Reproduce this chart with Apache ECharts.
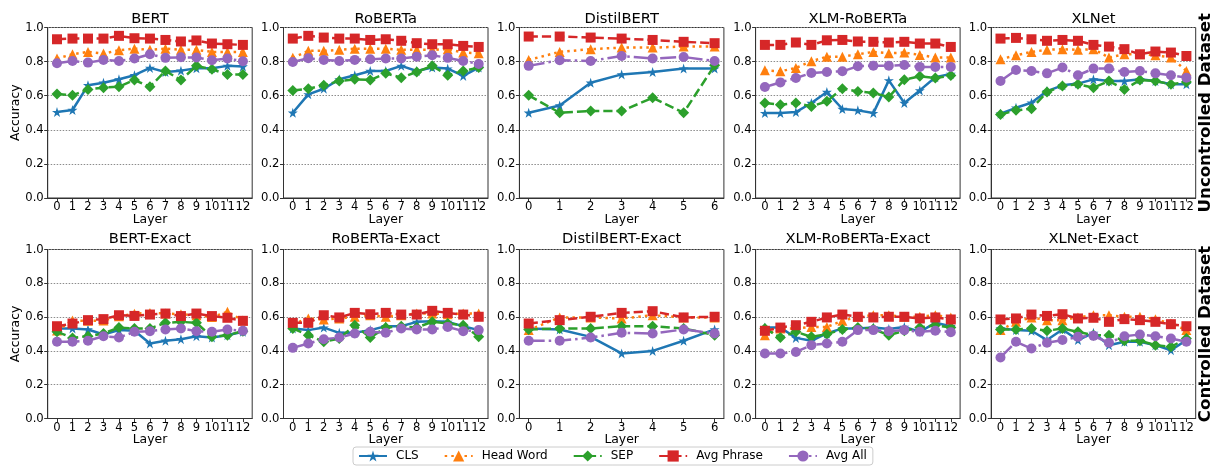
<!DOCTYPE html>
<html>
<head>
<meta charset="utf-8">
<script src="https://cdn.jsdelivr.net/npm/echarts@6/dist/echarts.min.js"></script>
<style>
html,body{margin:0;padding:0;background:#fff;}
#chart{width:1217px;height:469px;}
</style>
</head>
<body>
<div id="chart"></div>
<script>
// ---- data ----
const layers13 = [0,1,2,3,4,5,6,7,8,9,10,11,12];
const layers7 = [0,1,2,3,4,5,6];
const seriesNames = ['CLS','Head Word','SEP','Avg Phrase','Avg All'];
const panelTitles = ['BERT','RoBERTa','DistilBERT','XLM-RoBERTa','XLNet',
  'BERT-Exact','RoBERTa-Exact','DistilBERT-Exact','XLM-RoBERTa-Exact','XLNet-Exact'];
const rowLabels = ['Uncontrolled Dataset','Controlled Dataset'];
const yTicks = [0,0.2,0.4,0.6,0.8,1.0];

// Uncontrolled
const bertCLS    = [0.504,0.516,0.661,0.676,0.696,0.720,0.763,0.739,0.747,0.761,0.761,0.775,0.771];
const bertHead   = [0.818,0.843,0.857,0.847,0.867,0.876,0.869,0.876,0.869,0.869,0.857,0.857,0.857];
const bertSEP    = [0.610,0.602,0.637,0.647,0.653,0.692,0.653,0.745,0.692,0.775,0.755,0.725,0.725];
const bertPhrase = [0.931,0.935,0.935,0.935,0.951,0.937,0.935,0.927,0.918,0.924,0.906,0.902,0.898];
const bertAll    = [0.790,0.804,0.794,0.810,0.804,0.818,0.843,0.822,0.825,0.824,0.808,0.818,0.802];

const robCLS    = [0.500,0.608,0.641,0.696,0.720,0.745,0.745,0.775,0.745,0.765,0.759,0.716,0.765];
const robHead   = [0.822,0.863,0.863,0.869,0.876,0.876,0.876,0.869,0.869,0.869,0.873,0.853,0.849];
const robSEP    = [0.631,0.641,0.661,0.686,0.696,0.692,0.731,0.706,0.739,0.775,0.720,0.745,0.765];
const robPhrase = [0.935,0.951,0.941,0.935,0.935,0.927,0.931,0.922,0.908,0.902,0.902,0.892,0.886];
const robAll    = [0.798,0.820,0.810,0.804,0.810,0.814,0.818,0.818,0.829,0.837,0.822,0.804,0.786];

const disCLS    = [0.500,0.543,0.676,0.725,0.739,0.759,0.759];
const disHead   = [0.810,0.857,0.873,0.882,0.882,0.888,0.888];
const disSEP    = [0.602,0.500,0.510,0.510,0.588,0.500,0.778];
const disPhrase = [0.947,0.947,0.941,0.935,0.927,0.916,0.908];
const disAll    = [0.775,0.808,0.804,0.833,0.818,0.827,0.804];

const xlmCLS    = [0.498,0.498,0.504,0.557,0.622,0.522,0.514,0.498,0.690,0.557,0.631,0.708,0.728];
const xlmHead   = [0.749,0.743,0.763,0.802,0.829,0.829,0.843,0.857,0.849,0.853,0.839,0.824,0.824];
const xlmSEP    = [0.557,0.547,0.557,0.537,0.567,0.641,0.625,0.616,0.592,0.694,0.714,0.704,0.718];
const xlmPhrase = [0.898,0.898,0.912,0.898,0.925,0.927,0.918,0.916,0.912,0.916,0.906,0.906,0.886];
const xlmAll    = [0.651,0.678,0.704,0.733,0.739,0.743,0.773,0.776,0.776,0.780,0.769,0.769,0.769];

const xlnCLS    = [0.494,0.529,0.559,0.627,0.661,0.671,0.696,0.686,0.686,0.696,0.686,0.667,0.667];
const xlnHead   = [0.814,0.837,0.857,0.869,0.873,0.869,0.873,0.824,0.843,0.843,0.837,0.824,0.745];
const xlnSEP    = [0.490,0.514,0.524,0.622,0.657,0.667,0.647,0.686,0.637,0.692,0.686,0.667,0.680];
const xlnPhrase = [0.935,0.939,0.931,0.922,0.927,0.922,0.898,0.888,0.873,0.843,0.859,0.853,0.833];
const xlnAll    = [0.686,0.751,0.745,0.731,0.765,0.720,0.759,0.759,0.739,0.745,0.731,0.720,0.706];

// Controlled (Exact)
const bertExCLS    = [0.533,0.533,0.527,0.497,0.523,0.519,0.444,0.460,0.469,0.487,0.479,0.493,0.513];
const bertExHead   = [0.520,0.580,0.578,0.580,0.605,0.620,0.625,0.621,0.617,0.611,0.600,0.631,0.580];
const bertExSEP    = [0.513,0.477,0.487,0.503,0.538,0.533,0.533,0.566,0.572,0.566,0.483,0.493,0.517];
const bertExPhrase = [0.546,0.562,0.582,0.588,0.611,0.607,0.615,0.621,0.606,0.621,0.606,0.596,0.578];
const bertExAll    = [0.454,0.454,0.460,0.487,0.479,0.513,0.517,0.527,0.533,0.517,0.513,0.527,0.519];

const robExCLS    = [0.533,0.523,0.538,0.507,0.507,0.523,0.546,0.546,0.572,0.576,0.572,0.546,0.523];
const robExHead   = [0.558,0.592,0.586,0.592,0.602,0.611,0.602,0.611,0.621,0.621,0.617,0.621,0.621];
const robExSEP    = [0.533,0.493,0.454,0.473,0.552,0.479,0.538,0.546,0.538,0.572,0.562,0.552,0.483];
const robExPhrase = [0.566,0.566,0.611,0.598,0.625,0.617,0.625,0.615,0.615,0.637,0.625,0.615,0.602];
const robExAll    = [0.418,0.444,0.469,0.479,0.503,0.513,0.507,0.533,0.527,0.527,0.542,0.517,0.523];

const disExCLS    = [0.533,0.527,0.483,0.385,0.400,0.460,0.527];
const disExHead   = [0.523,0.598,0.598,0.592,0.611,0.598,0.598];
const disExSEP    = [0.527,0.533,0.533,0.546,0.546,0.533,0.493];
const disExPhrase = [0.562,0.582,0.602,0.625,0.635,0.598,0.602];
const disExAll    = [0.460,0.460,0.479,0.507,0.503,0.527,0.503];

const xlmExCLS    = [0.538,0.538,0.477,0.460,0.503,0.533,0.533,0.538,0.529,0.542,0.513,0.566,0.546];
const xlmExHead   = [0.493,0.533,0.533,0.542,0.542,0.578,0.602,0.611,0.611,0.602,0.602,0.611,0.598];
const xlmExSEP    = [0.533,0.479,0.513,0.483,0.499,0.527,0.538,0.529,0.493,0.519,0.538,0.552,0.538];
const xlmExPhrase = [0.519,0.538,0.552,0.572,0.598,0.615,0.602,0.598,0.602,0.602,0.592,0.598,0.586];
const xlmExAll    = [0.385,0.385,0.394,0.434,0.444,0.454,0.523,0.523,0.517,0.523,0.513,0.519,0.511];

const xlnExCLS    = [0.533,0.523,0.519,0.464,0.527,0.464,0.507,0.434,0.454,0.454,0.434,0.404,0.464];
const xlnExHead   = [0.523,0.572,0.598,0.582,0.582,0.598,0.611,0.611,0.602,0.602,0.588,0.562,0.523];
const xlnExSEP    = [0.527,0.527,0.533,0.519,0.533,0.513,0.493,0.493,0.460,0.460,0.434,0.424,0.473];
const xlnExPhrase = [0.586,0.592,0.615,0.607,0.617,0.592,0.596,0.572,0.588,0.582,0.572,0.558,0.546];
const xlnExAll    = [0.361,0.454,0.414,0.448,0.464,0.483,0.489,0.448,0.487,0.497,0.487,0.473,0.454];

const panels = [
  {layers: layers13, values: [bertCLS, bertHead, bertSEP, bertPhrase, bertAll]},
  {layers: layers13, values: [robCLS, robHead, robSEP, robPhrase, robAll]},
  {layers: layers7,  values: [disCLS, disHead, disSEP, disPhrase, disAll]},
  {layers: layers13, values: [xlmCLS, xlmHead, xlmSEP, xlmPhrase, xlmAll]},
  {layers: layers13, values: [xlnCLS, xlnHead, xlnSEP, xlnPhrase, xlnAll]},
  {layers: layers13, values: [bertExCLS, bertExHead, bertExSEP, bertExPhrase, bertExAll]},
  {layers: layers13, values: [robExCLS, robExHead, robExSEP, robExPhrase, robExAll]},
  {layers: layers7,  values: [disExCLS, disExHead, disExSEP, disExPhrase, disExAll]},
  {layers: layers13, values: [xlmExCLS, xlmExHead, xlmExSEP, xlmExPhrase, xlmExAll]},
  {layers: layers13, values: [xlnExCLS, xlnExHead, xlnExSEP, xlnExPhrase, xlnExAll]}
];

// ---- styling ----
const FONT = '"DejaVu Sans", "Liberation Sans", sans-serif';
const colors = ['#1f77b4','#ff7f0e','#2ca02c','#d62728','#9467bd'];
const STAR = 'path://M50,0 L61.2,34.5 L97.6,34.5 L68.2,55.9 L79.4,90.5 L50,69.1 L20.6,90.5 L31.8,55.9 L2.4,34.5 L38.8,34.5 Z';
const symbols = [STAR,'triangle','diamond','rect','circle'];
const symbolSizes = [10, 10, 11, 10, 10];
const LW = 2.5;
const dashes = ['solid', [2.5,4.1], [9.2,4], [9.2,4], [16,4,2.5,4]];

const colLeft = [47.7, 283.5, 519.4, 755.6, 991.2];
const plotW = 204.5;
const rowTop = [27.5, 249.5];
const rowH = [170.5, 169];

const grids = [], xAxes = [], yAxes = [], series = [], graphics = [];
panels.forEach((p, i) => {
  const r = Math.floor(i / 5), c = i % 5;
  grids.push({left: colLeft[c], top: rowTop[r], width: plotW, height: rowH[r],
    show: true, borderColor: '#333', borderWidth: 1, backgroundColor: '#fff', containLabel: false});
  const n = p.layers.length - 1;
  const m = n * 0.05;
  xAxes.push({type: 'value', gridIndex: i, min: -m, max: n + m,
    axisLine: {show: true, onZero: false, lineStyle: {color: '#333', width: 1}},
    axisTick: {show: true, length: 3.5, lineStyle: {color: '#333'}, customValues: p.layers},
    axisLabel: {show: true, margin: 3, color: '#000', fontFamily: FONT, fontSize: 11.6,
      customValues: p.layers, formatter: v => String(Math.round(v))},
    splitLine: {show: false}});
  yAxes.push({type: 'value', gridIndex: i, min: 0, max: 1, interval: 0.2,
    axisLine: {show: true, onZero: false, lineStyle: {color: '#333', width: 1}},
    axisTick: {show: true, length: 3.5, lineStyle: {color: '#333'}},
    axisLabel: {margin: 4, color: '#000', fontFamily: FONT, fontSize: 11.6,
      formatter: v => v.toFixed(1)},
    splitLine: {show: true, lineStyle: {color: '#8c8c8c', type: [1.5,1.5], width: 1}}});
  p.values.forEach((vals, k) => {
    series.push({
      name: seriesNames[k], type: 'line', xAxisIndex: i, yAxisIndex: i,
      data: p.layers.map((l, j) => [l, vals[j]]),
      symbol: symbols[k], symbolSize: symbolSizes[k], showAllSymbol: true,
      itemStyle: {color: colors[k], borderWidth: 0},
      lineStyle: {color: colors[k], width: LW, type: dashes[k]},
      emphasis: {disabled: true}, animation: false, z: 2 + k
    });
  });
  const cx = colLeft[c] + plotW / 2;
  graphics.push({type: 'text', x: cx, y: r === 0 ? 19 : 239.5,
    style: {text: panelTitles[i], font: '14.7px ' + FONT, fill: '#000',
      align: 'center', verticalAlign: 'middle', textAlign: 'center', textVerticalAlign: 'middle'}});
  graphics.push({type: 'text', x: cx, y: rowTop[r] + rowH[r] + 21.7,
    style: {text: 'Layer', font: '12.4px ' + FONT, fill: '#000',
      align: 'center', verticalAlign: 'middle', textAlign: 'center', textVerticalAlign: 'middle'}});
  if (c === 0) {
    graphics.push({type: 'text', x: 15.7, y: rowTop[r] + rowH[r] / 2, rotation: Math.PI / 2,
      style: {text: 'Accuracy', font: '12.4px ' + FONT, fill: '#000',
        align: 'center', verticalAlign: 'middle', textAlign: 'center', textVerticalAlign: 'middle'}});
  }
});
rowLabels.forEach((t, r) => {
  graphics.push({type: 'text', x: 1206, y: rowTop[r] + rowH[r] / 2, rotation: Math.PI / 2,
    style: {text: t, font: 'bold 16.6px ' + FONT, fill: '#000',
      align: 'center', verticalAlign: 'middle', textAlign: 'center', textVerticalAlign: 'middle'}});
});

const chart = echarts.init(document.getElementById('chart'), null, {renderer: 'canvas'});
chart.setOption({
  animation: false,
  backgroundColor: '#fff',
  grid: grids, xAxis: xAxes, yAxis: yAxes, series: series,
  legend: {
    data: seriesNames, left: 353, top: 447, orient: 'horizontal',
    itemWidth: 28, itemHeight: 14, itemGap: 25,
    padding: [3, 6, 3, 5],
    borderColor: '#cccccc', borderWidth: 1, borderRadius: 3, backgroundColor: '#fff',
    textStyle: {fontFamily: FONT, fontSize: 12, color: '#000', padding: [0, 0, 0, 4]}
  },
  graphic: graphics
});
</script>
</body>
</html>
